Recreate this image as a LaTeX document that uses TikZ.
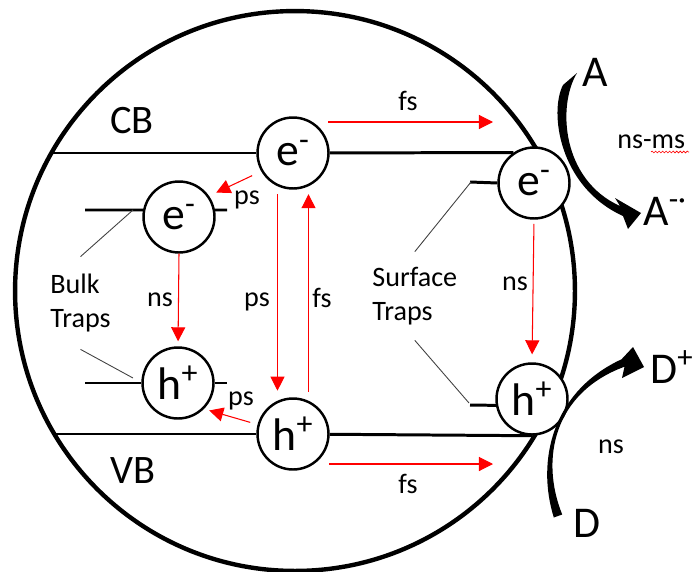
\documentclass[tikz,border=0pt]{standalone}
\usepackage{fontspec}
\setmainfont{Carlito}
\usepackage{tikz}
\usetikzlibrary{arrows.meta,decorations.pathmorphing}

\tikzset{
  carrier/.style={circle, draw, line width=1.4pt, fill=white, inner sep=0pt,
    minimum size=1.42cm, font=\fontsize{26}{28}\selectfont},
  band/.style={line width=1.7pt},
  hop/.style={red, line width=0.6pt, -{Triangle[length=8pt,width=8pt]}},
  small/.style={font=\fontsize{16}{19.5}\selectfont, inner sep=0pt},
  large/.style={font=\fontsize{23}{26}\selectfont, inner sep=0pt},
  species/.style={font=\fontsize{25}{28}\selectfont, inner sep=0pt},
  lead/.style={black!75, line width=0.5pt},
}

\begin{document}
\begin{tikzpicture}[x=0.02cm, y=-0.02cm]
  \useasboundingbox (0,0) rectangle (696,571);
  % Band levels
  \def\ycb{153}
  \def\yvb{434}

  % Particle outline
  \draw[line width=2.5pt] (295,291) circle[radius=5.6cm];

  % Carriers
  \node[carrier] (eCB)   at (293,\ycb) {e\textsuperscript{-}};
  \node[carrier] (hVB)   at (293,\yvb) {h\textsuperscript{+}};
  \node[carrier] (eBulk) at (179,217) {e\textsuperscript{-}};
  \node[carrier] (hBulk) at (178,383) {h\textsuperscript{+}};
  \node[carrier] (eSurf) at (534,183) {e\textsuperscript{-}};
  \node[carrier] (hSurf) at (532,399) {h\textsuperscript{+}};

  % Free ends
  \coordinate (cbL) at (51,\ycb);
  \coordinate (vbL) at (54,\yvb);
  \coordinate (tEb) at (85,210);
  \coordinate (tEbR) at (227,210);
  \coordinate (tHb) at (85,383);
  \coordinate (tHbR) at (227,383);
  \coordinate (tEs) at (470,182);
  \coordinate (tHs) at (470,405);
  \coordinate (legE) at (133,210);
  \coordinate (legH) at (133,378);
  \coordinate (legEs) at (471,182);
  \coordinate (legHs) at (469,403);
  \coordinate (fsTopL) at (328,122);
  \coordinate (fsTopR) at (493,122);
  \coordinate (fsBotL) at (329,464);
  \coordinate (fsBotR) at (493,464);

  % Bands
  \draw[band] (cbL) -- (eCB);
  \draw[band] (eCB) -- (eSurf.124);
  \draw[band] (vbL) -- (hVB);
  \draw[band] (hVB) -- (hSurf.south);

  % Trap levels
  \draw[band] (tEb) -- (eBulk.169);
  \draw[band] (eBulk.11) -- (tEbR);
  \draw[band] (tHb) -- (hBulk.west);
  \draw[band] (hBulk.east) -- (tHbR);
  \draw[band] (tEs) -- (eSurf.west);
  \draw[band] (tHs) -- (hSurf.190);

  % Labels
  \node[large, anchor=base west] (cbLbl) at (110,133) {CB};
  \node[large, anchor=base west] (vbLbl) at (110,483) {VB};
  \node[small, align=left, anchor=west, inner ysep=9.6pt] (bulkLbl) at (50,303)
    {Bulk\\Traps};
  \node[small, align=left, anchor=west, inner ysep=8.5pt] (surfLbl) at (372,296)
    {Surface\\Traps};
  \draw[lead] (legE) -- (bulkLbl.north);
  \draw[lead] (bulkLbl.south) -- (legH);
  \draw[lead] (legEs) -- (surfLbl.north);
  \draw[lead] (surfLbl.south) -- (legHs);

  % Time scales
  \node[small] (psA) at (247,200) {ps};
  \node[small] (nsA) at (160,300) {ns};
  \node[small] (psB) at (257,302) {ps};
  \node[small] (fsC) at (322,298) {fs};
  \node[small] (psC) at (241,401) {ps};
  \node[small] (fsA) at (408,101) {fs};
  \node[small] (fsB) at (408,484) {fs};
  \node[small] (nsB) at (515,284) {ns};
  \node[small] (nsC) at (611,447) {ns};
  \node[small, anchor=base west] (nsms) at (617,148) {ns-ms};
  \draw[red, line width=0.35pt, decorate,
    decoration={snake, amplitude=0.5pt, segment length=2pt}]
    (651,152) -- (689,152);

  % Transfers
  \draw[hop, shorten <=5.7pt, shorten >=4.5pt] (eCB.-150) -- (eBulk.35);
  \draw[hop, shorten >=2.8pt] (eBulk.south) -- (hBulk.north);
  \draw[hop, shorten <=4.5pt, shorten >=5.7pt] (eCB.-115) -- (hVB.115);
  \draw[hop, shorten <=5.1pt, shorten >=4.5pt] (hVB.65) -- (eCB.-65);
  \draw[hop, shorten <=4.3pt, shorten >=3.1pt] (hVB.165) -- (hBulk.-45);
  \draw[hop] (fsTopL) -- (fsTopR);
  \draw[hop] (fsBotL) -- (fsBotR);
  \draw[hop, shorten <=2.3pt, shorten >=4.5pt] (eSurf.south) -- (hSurf.north);

  % Redox species
  \node[species, anchor=base west] (accA)  at (582,87) {A};
  \node[species, anchor=base west] (accAm) at (643,225) {A\textsuperscript{-·}};
  \node[species, anchor=base west] (donDp) at (650,383) {D\textsuperscript{+}};
  \node[species, anchor=base west] (donD)  at (573,537) {D};

  % Curved arrows
  \fill (577,73) .. controls (557,106) and (562,180) .. (620,206)
    -- (615,198) -- (641,213) -- (628,229) -- (623,216)
    .. controls (559,187) and (549,112) .. (563,85) -- cycle;
  \fill (553.8,517.5) .. controls (536.1,460.7) and (552.25,391.34) .. (621.5,359.3)
    -- (633,347) -- (644,367) -- (622,378) -- (624.5,366.7)
    .. controls (553.75,392.66) and (539.9,459.3) .. (562.2,514.5) -- cycle;
\end{tikzpicture}
\end{document}
